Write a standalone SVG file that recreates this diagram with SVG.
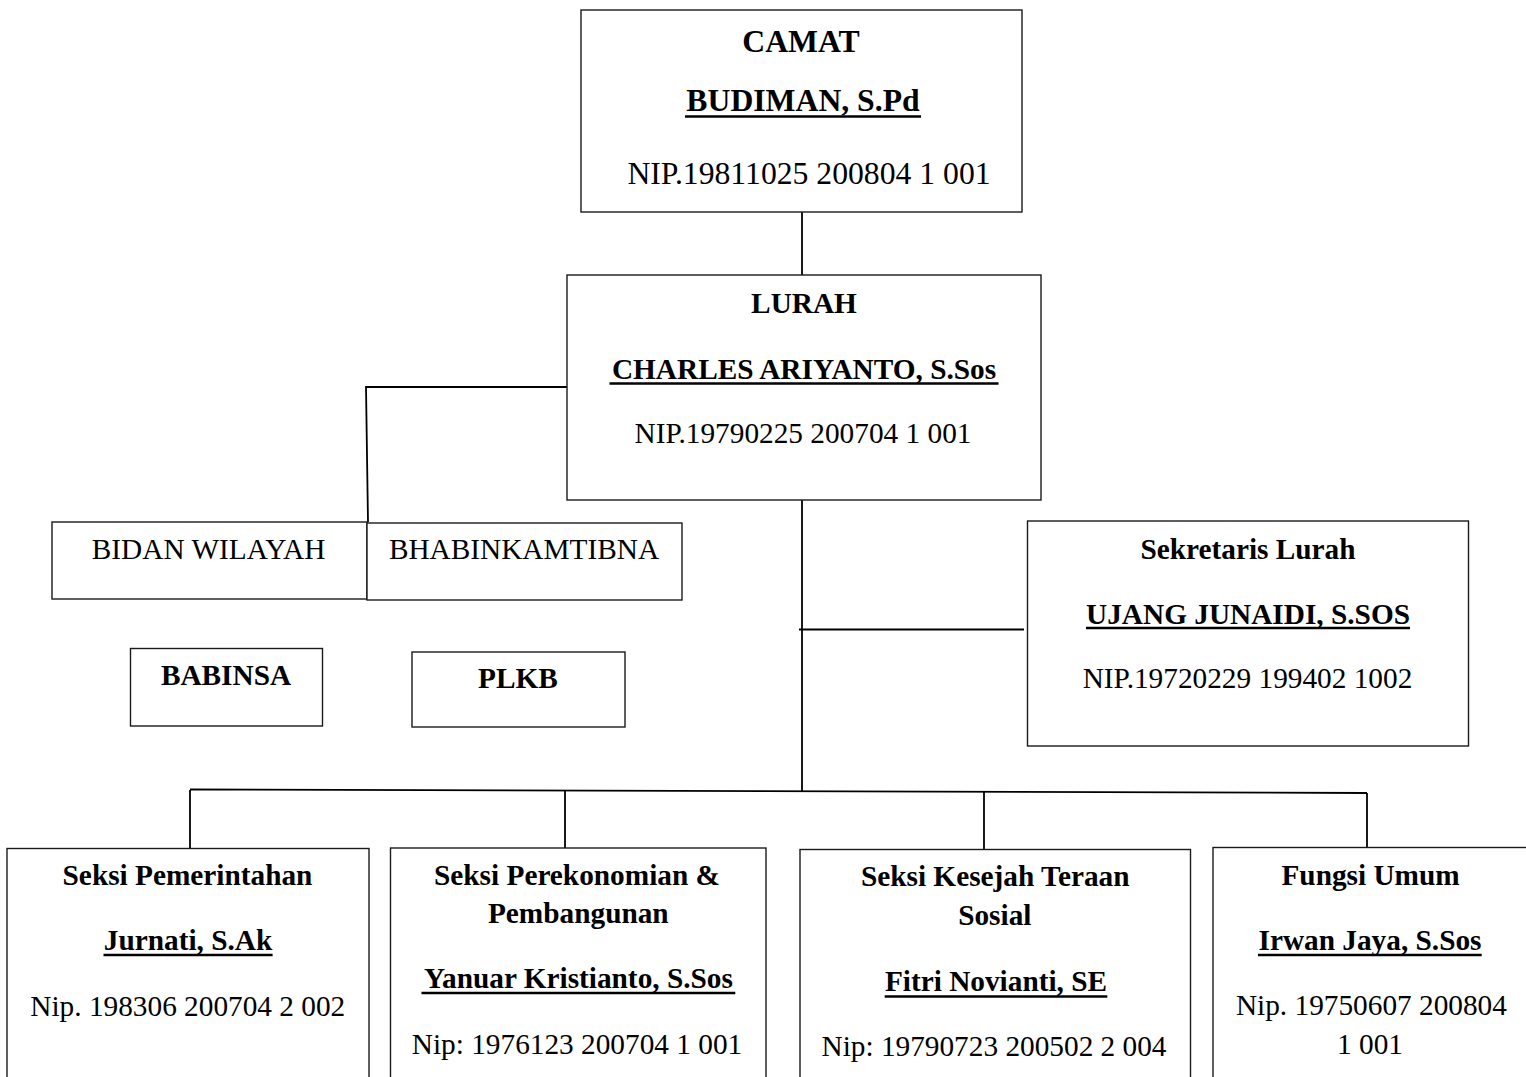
<svg xmlns="http://www.w3.org/2000/svg" width="1526" height="1077" viewBox="0 0 1526 1077">
<style>
.box{fill:#fff;stroke:#1a1a1a;stroke-width:1.4}
.t{font-family:"Liberation Serif","Times New Roman",serif;font-size:29.3px;fill:#000;text-anchor:middle}
.b{font-weight:bold}
.big{font-size:31.7px}
.ul{stroke:#000;stroke-width:2.5}
.conn{stroke:#000;stroke-width:1.8;fill:none}
</style>
<rect width="1526" height="1077" fill="#fff"/>
<g id="connectors">
<line class="conn" x1="802" y1="212" x2="802" y2="275"/>
<polyline class="conn" points="567,387 366,387 368,522"/>
<line class="conn" x1="802" y1="500" x2="802" y2="791"/>
<line class="conn" x1="799" y1="629.5" x2="1024" y2="629.5"/>
<line class="conn" x1="190" y1="789.5" x2="1367" y2="793"/>
<line class="conn" x1="190" y1="790" x2="190" y2="848"/>
<line class="conn" x1="565" y1="790.5" x2="565" y2="848"/>
<line class="conn" x1="984" y1="792" x2="984" y2="849"/>
<line class="conn" x1="1367" y1="793" x2="1367" y2="847"/>
</g>
<g id="camat">
<rect class="box" x="581" y="10" width="441" height="202"/>
<text class="t b big" x="801" y="52">CAMAT</text>
<text class="t b big" x="803" y="111">BUDIMAN, S.Pd</text>
<line class="ul" x1="685" y1="116.5" x2="921" y2="116.5"/>
<text class="t big" x="809" y="184">NIP.19811025 200804 1 001</text>
</g>
<g id="lurah">
<rect class="box" x="567" y="275" width="474" height="225"/>
<text class="t b" x="804" y="313">LURAH</text>
<text class="t b" x="804" y="379">CHARLES ARIYANTO, S.Sos</text>
<line class="ul" x1="609.5" y1="383.5" x2="998.5" y2="383.5"/>
<text class="t" x="803" y="443">NIP.19790225 200704 1 001</text>
</g>
<g id="bidan">
<rect class="box" x="52" y="522" width="315" height="77"/>
<text class="t" x="208.6" y="559">BIDAN WILAYAH</text>
</g>
<g id="bhabinkamtibna">
<rect class="box" x="367" y="523" width="315" height="77"/>
<text class="t" x="524" y="559">BHABINKAMTIBNA</text>
</g>
<g id="babinsa">
<rect class="box" x="130.5" y="648.5" width="192" height="77.5"/>
<text class="t b" x="226" y="685">BABINSA</text>
</g>
<g id="plkb">
<rect class="box" x="412" y="652" width="213" height="75"/>
<text class="t b" x="518" y="688">PLKB</text>
</g>
<g id="sekretaris">
<rect class="box" x="1027.5" y="521" width="441" height="225"/>
<text class="t b" x="1248" y="559">Sekretaris Lurah</text>
<text class="t b" x="1248" y="624">UJANG JUNAIDI, S.SOS</text>
<line class="ul" x1="1086" y1="628" x2="1410" y2="628"/>
<text class="t" x="1247.5" y="688">NIP.19720229 199402 1002</text>
</g>
<g id="pemerintahan">
<rect class="box" x="7" y="848.5" width="362" height="240"/>
<text class="t b" x="187.5" y="885">Seksi Pemerintahan</text>
<text class="t b" x="188" y="950">Jurnati, S.Ak</text>
<line class="ul" x1="103.5" y1="955" x2="272.6" y2="955"/>
<text class="t" x="187.8" y="1016">Nip. 198306 200704 2 002</text>
</g>
<g id="perekonomian">
<rect class="box" x="390.5" y="848" width="375.5" height="240"/>
<text class="t b" x="577" y="885">Seksi Perekonomian &amp;</text>
<text class="t b" x="578.3" y="923">Pembangunan</text>
<text class="t b" x="578.5" y="988">Yanuar Kristianto, S.Sos</text>
<line class="ul" x1="421.5" y1="993" x2="735.3" y2="993"/>
<text class="t" x="577" y="1054">Nip: 1976123 200704 1 001</text>
</g>
<g id="kesejahteraan">
<rect class="box" x="800" y="849.5" width="390.5" height="240"/>
<text class="t b" x="995.2" y="886">Seksi Kesejah Teraan</text>
<text class="t b" x="994.8" y="925">Sosial</text>
<text class="t b" x="996" y="991">Fitri Novianti, SE</text>
<line class="ul" x1="884.7" y1="996.5" x2="1107.3" y2="996.5"/>
<text class="t" x="994" y="1056">Nip: 19790723 200502 2 004</text>
</g>
<g id="umum">
<rect class="box" x="1213" y="847.5" width="330" height="240"/>
<text class="t b" x="1370.6" y="885">Fungsi Umum</text>
<text class="t b" x="1370" y="950">Irwan Jaya, S.Sos</text>
<line class="ul" x1="1258" y1="955" x2="1481.7" y2="955"/>
<text class="t" x="1371.4" y="1015">Nip. 19750607 200804</text>
<text class="t" x="1370" y="1054">1 001</text>
</g>
</svg>
